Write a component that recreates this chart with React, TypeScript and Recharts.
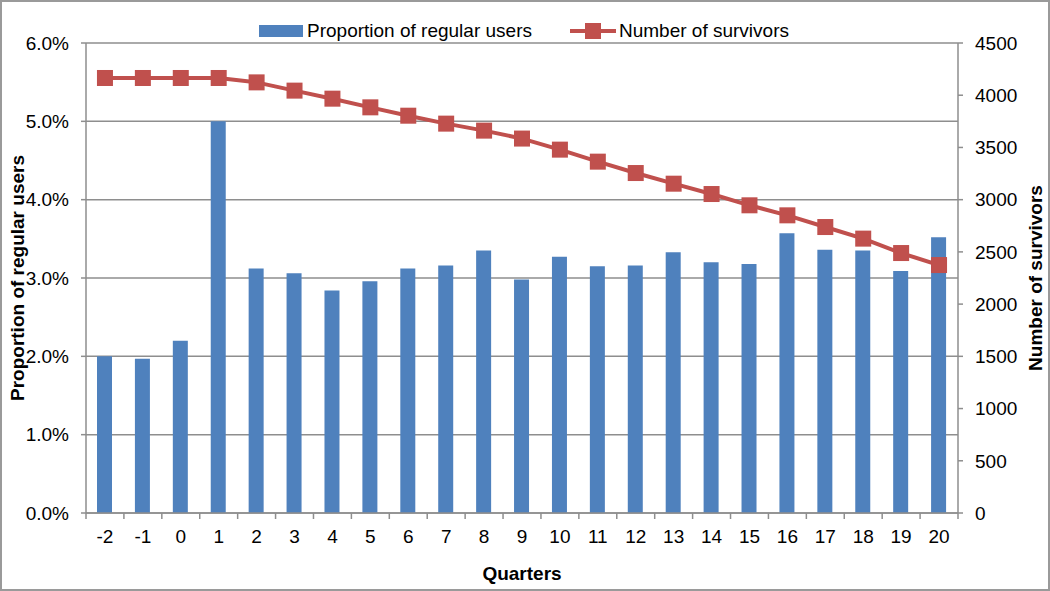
import React from 'react';
import {
  ComposedChart,
  Bar,
  Line,
  XAxis,
  YAxis,
  CartesianGrid,
  Legend,
} from 'recharts';

const quarters = ['-2', '-1', '0', '1', '2', '3', '4', '5', '6', '7', '8', '9', '10', '11', '12', '13', '14', '15', '16', '17', '18', '19', '20'];
const regularUsersPct = [2.0, 1.97, 2.2, 5.0, 3.12, 3.06, 2.84, 2.96, 3.12, 3.16, 3.35, 2.98, 3.27, 3.15, 3.16, 3.33, 3.2, 3.18, 3.57, 3.36, 3.35, 3.09, 3.52];
const survivors = [4165, 4165, 4165, 4165, 4123, 4044, 3967, 3884, 3804, 3728, 3661, 3585, 3479, 3364, 3255, 3153, 3054, 2946, 2850, 2738, 2627, 2489, 2374];
const leftTicks = [0, 1, 2, 3, 4, 5, 6];
const rightTicks = [0, 500, 1000, 1500, 2000, 2500, 3000, 3500, 4000, 4500];

const BLUE = '#4F81BD';
const RED = '#C0504D';
const GRID = '#8E8E8E';
const FONT = '"Liberation Sans", Arial, sans-serif';

const data = quarters.map((q, i) => ({
  quarter: q,
  users: regularUsersPct[i],
  survivors: survivors[i],
}));

// square marker like the excel line
const SquareDot = (props: any) => {
  const { cx, cy } = props;
  if (cx == null || cy == null) return null;
  return <rect x={cx - 8} y={cy - 8} width={16} height={16} fill={RED} />;
};

// excel puts the tick marks between categories, not under them
const QuarterTick = (props: any) => {
  const { x, y, payload, index, width, visibleTicksCount } = props;
  const count = visibleTicksCount || quarters.length;
  const band = (width || 872) / count;
  const axisY = y - 8;
  return (
    <g>
      <line x1={x - band / 2} x2={x - band / 2} y1={axisY} y2={axisY + 6} stroke={GRID} strokeWidth={1.5} />
      {index === count - 1 && (
        <line x1={x + band / 2} x2={x + band / 2} y1={axisY} y2={axisY + 6} stroke={GRID} strokeWidth={1.5} />
      )}
      <text x={x} y={axisY + 30} textAnchor="middle" fill="#000" fontSize={19} fontFamily={FONT}>
        {payload.value}
      </text>
    </g>
  );
};

const renderLegend = () => (
  <div style={{ display: 'flex', justifyContent: 'center', alignItems: 'center', height: 24, fontFamily: FONT, fontSize: 19, color: '#000' }}>
    <div style={{ display: 'flex', alignItems: 'center', marginRight: 38 }}>
      <span style={{ display: 'inline-block', width: 44, height: 12, background: BLUE, marginRight: 4 }} />
      <span>Proportion of regular users</span>
    </div>
    <div style={{ display: 'flex', alignItems: 'center' }}>
      <svg width={46} height={18} style={{ marginRight: 3 }}>
        <line x1={0} x2={46} y1={9} y2={9} stroke={RED} strokeWidth={4} />
        <rect x={15} y={1} width={16} height={16} fill={RED} />
      </svg>
      <span>Number of survivors</span>
    </div>
  </div>
);

export default function App() {
  return (
    <div style={{ position: 'absolute', left: 0, top: 0, width: 1050, height: 591, background: '#fff' }}>
      <ComposedChart
        width={1050}
        height={591}
        data={data}
        margin={{ top: 19, right: 10, bottom: 6, left: 8 }}
      >
        <CartesianGrid yAxisId="left" vertical={false} stroke={GRID} strokeWidth={1.5} />
        <XAxis
          dataKey="quarter"
          stroke={GRID}
          strokeWidth={1.5}
          tickLine={false}
          tickSize={6}
          tickMargin={2}
          height={72}
          tick={<QuarterTick />}
          interval={0}
          label={{ value: 'Quarters', position: 'insideBottom', offset: 5, style: { fontFamily: FONT, fontSize: 19, fontWeight: 700, fill: '#000' } }}
        />
        <YAxis
          yAxisId="left"
          domain={[0, 6]}
          ticks={leftTicks}
          width={78}
          stroke={GRID}
          strokeWidth={1.5}
          tickSize={5}
          tickMargin={12}
          tickFormatter={(v: number) => `${v.toFixed(1)}%`}
          tick={{ fill: '#000', fontSize: 19, fontFamily: FONT }}
          label={{ value: 'Proportion of regular users', angle: -90, position: 'insideLeft', offset: 9, style: { textAnchor: 'middle', fontFamily: FONT, fontSize: 19, fontWeight: 700, fill: '#000' } }}
        />
        <YAxis
          yAxisId="right"
          orientation="right"
          domain={[0, 4500]}
          ticks={rightTicks}
          width={82}
          stroke={GRID}
          strokeWidth={1.5}
          tickSize={5}
          tickMargin={12}
          tick={{ fill: '#000', fontSize: 19, fontFamily: FONT, textAnchor: 'start' }}
          label={{ value: 'Number of survivors', angle: -90, position: 'insideRight', offset: 5, style: { textAnchor: 'middle', fontFamily: FONT, fontSize: 19, fontWeight: 700, fill: '#000' } }}
        />
        <Legend verticalAlign="top" align="center" content={renderLegend} />
        <Bar yAxisId="left" dataKey="users" name="Proportion of regular users" fill={BLUE} barSize={15} isAnimationActive={false} />
        <Line
          yAxisId="right"
          type="linear"
          dataKey="survivors"
          name="Number of survivors"
          stroke={RED}
          strokeWidth={4}
          dot={<SquareDot />}
          activeDot={false}
          isAnimationActive={false}
        />
      </ComposedChart>
      <div style={{ position: 'absolute', left: 0, top: 0, width: 1050, height: 591, boxSizing: 'border-box', border: '2px solid #9a9a9a', pointerEvents: 'none' }} />
    </div>
  );
}
